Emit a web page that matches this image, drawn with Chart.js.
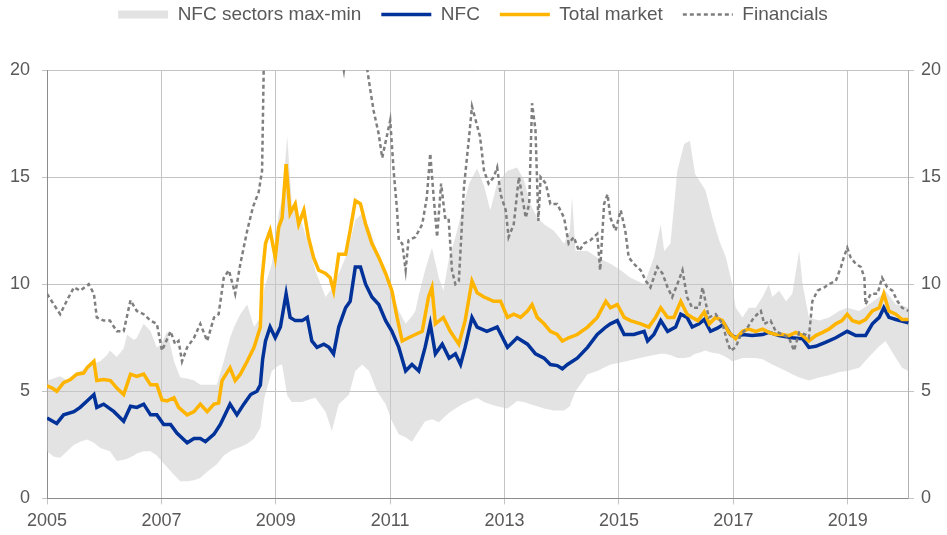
<!DOCTYPE html>
<html>
<head>
<meta charset="utf-8">
<script src="https://cdn.jsdelivr.net/npm/chart.js@4.4.1/dist/chart.umd.min.js"></script>
<style>
  html, body { margin: 0; padding: 0; background: #fff; }
  #wrap { width: 947px; height: 535px; }
</style>
</head>
<body>
<div id="wrap"><canvas id="chart"></canvas></div>
<script>
// x axis labels (odd years) and y ticks
const xTickYears = [2005, 2007, 2009, 2011, 2013, 2015, 2017, 2019];
const yTicks = [0, 5, 10, 15, 20];

// NFC sectors max-min band
const bandYears = [2005.0, 2005.12, 2005.23, 2005.35, 2005.47, 2005.58, 2005.7, 2005.82, 2005.93, 2006.05,
  2006.1, 2006.22, 2006.34, 2006.4, 2006.52, 2006.57, 2006.69, 2006.81, 2006.92, 2007.0,
  2007.1, 2007.22, 2007.33, 2007.45, 2007.57, 2007.68, 2007.8, 2007.97, 2008.09, 2008.2,
  2008.27, 2008.38, 2008.5, 2008.62, 2008.73, 2008.8, 2008.93, 2009.05, 2009.11, 2009.2,
  2009.28, 2009.46, 2009.57, 2009.69, 2009.87, 2009.98, 2010.1, 2010.22, 2010.28, 2010.39,
  2010.51, 2010.63, 2010.77, 2010.92, 2011.03, 2011.15, 2011.27, 2011.38, 2011.44, 2011.5,
  2011.61, 2011.73, 2011.85, 2011.93, 2012.03, 2012.14, 2012.26, 2012.38, 2012.52, 2012.64,
  2012.75, 2012.87, 2013.05, 2013.22, 2013.34, 2013.45, 2013.57, 2013.69, 2013.86, 2014.04,
  2014.14, 2014.18, 2014.24, 2014.45, 2014.62, 2014.85, 2015.03, 2015.2, 2015.44, 2015.61,
  2015.73, 2015.79, 2015.9, 2016.02, 2016.14, 2016.24, 2016.33, 2016.4, 2016.51, 2016.63,
  2016.75, 2016.87, 2016.98, 2017.04, 2017.16, 2017.27, 2017.39, 2017.51, 2017.62, 2017.68,
  2017.8, 2017.92, 2018.03, 2018.15, 2018.21, 2018.32, 2018.5, 2018.67, 2018.85, 2018.99,
  2019.2, 2019.37, 2019.55, 2019.66, 2019.84, 2019.95, 2020.06];
const bandMax = [5.5, 5.6, 5.7, 5.5, 5.8, 5.95, 6.1, 6.3, 6.4, 6.7,
  6.9, 6.6, 7.0, 7.65, 7.4, 7.5, 8.15, 7.8, 7.05, 7.2,
  7.8, 6.4, 5.65, 5.6, 5.5, 5.3, 5.3, 5.3, 6.4, 7.5,
  8.0, 8.6, 9.05, 8.0, 8.45, 9.8, 10.95, 13.3, 14.0, 16.9,
  13.75, 12.8, 11.9, 10.65, 9.4, 9.8, 10.5, 11.25, 11.8, 13.0,
  13.3, 12.65, 11.55, 10.65, 9.7, 8.75, 8.15, 8.5, 8.75, 9.5,
  10.65, 11.7, 10.3, 9.7, 11.25, 12.2, 13.45, 14.7, 15.4, 14.6,
  13.45, 14.7, 15.3, 15.45, 14.85, 13.75, 13.1, 12.8, 12.5, 11.9,
  12.5, 14.05, 11.55, 11.55, 11.25, 10.95, 10.65, 10.3, 10.0, 11.25,
  12.8, 11.55, 11.9, 15.3, 16.55, 16.7, 15.15, 14.85, 14.4, 13.15,
  12.05, 11.25, 10.0, 8.9, 8.45, 8.9, 8.9, 9.4, 10.0, 9.4,
  9.7, 9.2, 9.55, 11.55, 10.0, 8.45, 8.3, 8.45, 8.75, 8.9,
  8.75, 9.05, 9.4, 9.7, 9.05, 9.0, 8.9];
const bandMin = [2.2, 1.95, 1.9, 2.2, 2.5, 2.65, 2.75, 2.6, 2.35, 2.25,
  2.2, 1.75, 1.8, 1.85, 2.0, 2.1, 2.2, 2.2, 2.0, 1.75,
  1.45, 1.1, 0.8, 0.8, 0.85, 0.95, 1.25, 1.6, 2.0, 2.2,
  2.3, 2.4, 2.55, 2.8, 3.3, 4.7, 5.95, 6.2, 6.25, 4.8,
  4.5, 4.5, 4.6, 4.7, 4.05, 3.15, 4.4, 4.7, 4.85, 5.95,
  6.25, 5.95, 5.0, 4.4, 3.6, 3.0, 2.85, 2.65, 2.9, 3.15,
  3.6, 3.7, 3.55, 3.75, 4.0, 4.2, 4.4, 4.55, 4.7, 4.5,
  4.4, 4.3, 4.2, 4.55, 4.5, 4.4, 4.3, 4.2, 4.1, 4.1,
  4.3, 4.6, 5.0, 5.8, 5.95, 6.25, 6.35, 6.45, 6.6, 6.7,
  6.75, 6.75, 6.7, 6.55, 6.55, 6.6, 6.75, 6.8, 6.9, 6.8,
  6.75, 6.6, 6.4, 6.45, 6.55, 6.55, 6.55, 6.5, 6.35, 6.25,
  6.1, 5.95, 5.8, 5.65, 5.6, 5.5, 5.65, 5.75, 5.9, 5.95,
  6.1, 6.6, 7.1, 7.35, 6.55, 6.1, 5.95];

// NFC
const nfcYears = [2005.0, 2005.17, 2005.29, 2005.47, 2005.58, 2005.7, 2005.82, 2005.87, 2005.99, 2006.17,
  2006.34, 2006.46, 2006.57, 2006.69, 2006.81, 2006.92, 2007.04, 2007.16, 2007.27, 2007.45,
  2007.57, 2007.68, 2007.77, 2007.92, 2008.03, 2008.2, 2008.32, 2008.44, 2008.56, 2008.67,
  2008.73, 2008.77, 2008.82, 2008.9, 2008.99, 2009.08, 2009.18, 2009.25, 2009.34, 2009.46,
  2009.55, 2009.63, 2009.72, 2009.84, 2009.93, 2010.01, 2010.1, 2010.22, 2010.3, 2010.39,
  2010.48, 2010.57, 2010.68, 2010.8, 2010.92, 2011.03, 2011.15, 2011.27, 2011.38, 2011.5,
  2011.61, 2011.7, 2011.79, 2011.91, 2012.03, 2012.14, 2012.23, 2012.31, 2012.43, 2012.52,
  2012.69, 2012.87, 2013.05, 2013.22, 2013.4, 2013.54, 2013.69, 2013.8, 2013.92, 2014.01,
  2014.1, 2014.27, 2014.45, 2014.62, 2014.77, 2014.85, 2014.97, 2015.09, 2015.26, 2015.44,
  2015.5, 2015.61, 2015.73, 2015.85, 2015.99, 2016.08, 2016.19, 2016.28, 2016.4, 2016.49,
  2016.6, 2016.72, 2016.84, 2016.95, 2017.04, 2017.16, 2017.33, 2017.51, 2017.62, 2017.8,
  2018.03, 2018.21, 2018.32, 2018.44, 2018.62, 2018.79, 2018.99, 2019.14, 2019.31, 2019.43,
  2019.55, 2019.63, 2019.72, 2019.84, 2020.06];
const nfcValues = [3.75, 3.5, 3.9, 4.05, 4.25, 4.55, 4.85, 4.25, 4.4, 4.05,
  3.6, 4.3, 4.25, 4.4, 3.9, 3.9, 3.45, 3.45, 3.05, 2.6,
  2.8, 2.8, 2.65, 3.0, 3.45, 4.4, 3.9, 4.4, 4.85, 5.0,
  5.3, 6.5, 7.35, 8.0, 7.5, 8.0, 9.55, 8.45, 8.3, 8.3,
  8.45, 7.35, 7.05, 7.2, 7.05, 6.75, 8.0, 8.9, 9.2, 10.8,
  10.8, 10.0, 9.4, 9.05, 8.3, 7.8, 7.05, 5.95, 6.25, 5.95,
  7.05, 8.15, 6.75, 7.2, 6.55, 6.75, 6.25, 7.05, 8.45, 8.0,
  7.8, 8.0, 7.05, 7.5, 7.2, 6.75, 6.55, 6.25, 6.2, 6.05,
  6.25, 6.55, 7.05, 7.65, 8.0, 8.15, 8.3, 7.65, 7.65, 7.8,
  7.35, 7.65, 8.3, 7.8, 8.0, 8.6, 8.45, 8.0, 8.15, 8.35,
  7.8, 7.95, 8.15, 7.65, 7.5, 7.65, 7.6, 7.65, 7.75, 7.6,
  7.5, 7.45, 7.05, 7.1, 7.3, 7.5, 7.8, 7.6, 7.6, 8.15,
  8.45, 8.9, 8.45, 8.35, 8.2];

// Total market
const totalYears = [2005.0, 2005.09, 2005.17, 2005.29, 2005.41, 2005.52, 2005.64, 2005.7, 2005.82, 2005.87,
  2005.99, 2006.11, 2006.22, 2006.34, 2006.46, 2006.57, 2006.69, 2006.81, 2006.92, 2007.01,
  2007.1, 2007.22, 2007.3, 2007.45, 2007.57, 2007.68, 2007.8, 2007.92, 2008.0, 2008.06,
  2008.2, 2008.29, 2008.38, 2008.5, 2008.62, 2008.73, 2008.76, 2008.82, 2008.9, 2008.99,
  2009.05, 2009.11, 2009.18, 2009.25, 2009.34, 2009.4, 2009.49, 2009.57, 2009.66, 2009.75,
  2009.87, 2009.95, 2010.01, 2010.1, 2010.22, 2010.3, 2010.39, 2010.48, 2010.57, 2010.68,
  2010.8, 2010.92, 2011.03, 2011.12, 2011.21, 2011.32, 2011.44, 2011.56, 2011.67, 2011.73,
  2011.79, 2011.93, 2012.05, 2012.2, 2012.31, 2012.43, 2012.52, 2012.64, 2012.81, 2012.93,
  2013.05, 2013.16, 2013.28, 2013.4, 2013.48, 2013.57, 2013.69, 2013.8, 2013.92, 2014.01,
  2014.12, 2014.27, 2014.45, 2014.62, 2014.77, 2014.85, 2014.97, 2015.09, 2015.2, 2015.38,
  2015.52, 2015.64, 2015.73, 2015.85, 2015.96, 2016.08, 2016.19, 2016.28, 2016.38, 2016.49,
  2016.58, 2016.69, 2016.81, 2016.92, 2017.04, 2017.16, 2017.27, 2017.39, 2017.51, 2017.62,
  2017.74, 2017.86, 2017.97, 2018.09, 2018.21, 2018.32, 2018.44, 2018.56, 2018.67, 2018.79,
  2018.9, 2018.99, 2019.08, 2019.2, 2019.31, 2019.43, 2019.55, 2019.63, 2019.72, 2019.84,
  2019.95, 2020.06];
const totalValues = [5.25, 5.15, 5.0, 5.4, 5.55, 5.8, 5.85, 6.1, 6.4, 5.5,
  5.55, 5.5, 5.15, 4.85, 5.8, 5.7, 5.8, 5.3, 5.3, 4.6,
  4.55, 4.7, 4.25, 3.9, 4.05, 4.4, 4.05, 4.4, 4.45, 5.5,
  6.1, 5.5, 5.8, 6.4, 7.05, 8.0, 10.3, 11.9, 12.5, 11.25,
  12.65, 13.1, 15.6, 13.3, 13.75, 12.8, 13.45, 12.2, 11.25, 10.65,
  10.5, 10.3, 9.7, 11.4, 11.4, 12.5, 13.9, 13.75, 12.8, 11.9,
  11.25, 10.5, 9.7, 8.45, 7.35, 7.5, 7.65, 7.8, 9.4, 9.85,
  8.15, 8.45, 7.8, 7.2, 8.3, 10.15, 9.6, 9.4, 9.2, 9.2,
  8.45, 8.6, 8.45, 8.75, 9.05, 8.45, 8.15, 7.8, 7.65, 7.35,
  7.5, 7.65, 8.0, 8.45, 9.2, 8.9, 9.05, 8.45, 8.3, 8.15,
  8.0, 8.45, 8.9, 8.45, 8.45, 9.2, 8.6, 8.45, 8.3, 8.7,
  8.15, 8.45, 8.3, 7.75, 7.45, 7.8, 7.9, 7.8, 7.9, 7.75,
  7.65, 7.65, 7.6, 7.75, 7.6, 7.35, 7.6, 7.75, 7.9, 8.15,
  8.3, 8.6, 8.3, 8.2, 8.35, 8.75, 8.9, 9.55, 8.75, 8.6,
  8.35, 8.35];

// Financials (values above 20 run off the top of the chart)
const finYears = [2005.0, 2005.12, 2005.23, 2005.35, 2005.47, 2005.58, 2005.73, 2005.82, 2005.87, 2005.99,
  2006.1, 2006.22, 2006.34, 2006.46, 2006.57, 2006.69, 2006.81, 2006.92, 2007.01, 2007.16,
  2007.24, 2007.3, 2007.36, 2007.45, 2007.57, 2007.68, 2007.8, 2007.92, 2008.0, 2008.09,
  2008.18, 2008.29, 2008.38, 2008.5, 2008.6, 2008.7, 2008.76, 2008.8, 2009.0, 2009.5,
  2009.9, 2010.1, 2010.19, 2010.28, 2010.45, 2010.6, 2010.65, 2010.71, 2010.8, 2010.86,
  2010.94, 2011.0, 2011.06, 2011.12, 2011.15, 2011.21, 2011.27, 2011.32, 2011.44, 2011.56,
  2011.64, 2011.7, 2011.76, 2011.82, 2011.89, 2011.96, 2012.02, 2012.08, 2012.14, 2012.2,
  2012.29, 2012.38, 2012.43, 2012.52, 2012.57, 2012.64, 2012.72, 2012.81, 2012.87, 2012.93,
  2013.02, 2013.07, 2013.16, 2013.25, 2013.31, 2013.37, 2013.43, 2013.48, 2013.54, 2013.59,
  2013.63, 2013.72, 2013.8, 2013.92, 2014.04, 2014.12, 2014.21, 2014.3, 2014.39, 2014.5,
  2014.62, 2014.67, 2014.74, 2014.8, 2014.85, 2014.94, 2015.03, 2015.11, 2015.17, 2015.26,
  2015.38, 2015.47, 2015.55, 2015.67, 2015.76, 2015.85, 2015.93, 2016.02, 2016.11, 2016.19,
  2016.28, 2016.4, 2016.46, 2016.57, 2016.69, 2016.81, 2016.89, 2016.95, 2017.04, 2017.13,
  2017.24, 2017.36, 2017.48, 2017.54, 2017.65, 2017.74, 2017.86, 2017.97, 2018.06, 2018.15,
  2018.26, 2018.32, 2018.38, 2018.47, 2018.59, 2018.67, 2018.79, 2018.88, 2018.93, 2018.99,
  2019.05, 2019.14, 2019.23, 2019.29, 2019.31, 2019.4, 2019.52, 2019.6, 2019.69, 2019.78,
  2019.87, 2019.95, 2020.06];
const finValues = [9.55, 9.05, 8.6, 9.25, 9.85, 9.7, 10.0, 9.55, 8.45, 8.3,
  8.3, 7.8, 7.8, 9.25, 8.75, 8.6, 8.3, 8.15, 6.9, 7.8,
  7.2, 7.35, 6.4, 7.05, 7.5, 8.15, 7.35, 8.45, 8.6, 10.3,
  10.65, 9.55, 10.95, 12.5, 13.6, 14.3, 15.3, 22, 26, 27,
  24, 21.5, 20.0, 22, 23, 20.0, 19.1, 18.1, 17.0, 15.9,
  16.9, 17.65, 15.3, 13.45, 12.05, 11.9, 10.65, 12.05, 12.2, 12.8,
  14.05, 16.1, 14.05, 12.2, 14.7, 13.1, 13.1, 10.65, 10.0, 10.15,
  14.55, 16.9, 18.3, 17.4, 16.9, 15.3, 14.7, 15.0, 15.45, 14.2,
  13.45, 12.2, 12.8, 15.0, 14.05, 13.1, 13.75, 18.45, 17.2, 12.95,
  15.0, 14.7, 13.75, 13.75, 13.1, 11.9, 12.2, 11.55, 11.9, 12.05,
  12.35, 10.65, 13.75, 14.2, 13.1, 12.5, 13.45, 12.5, 11.25, 10.95,
  10.65, 10.15, 9.85, 10.8, 10.5, 9.85, 9.4, 10.0, 10.65, 9.4,
  8.9, 8.9, 9.85, 8.45, 8.6, 8.15, 7.35, 6.9, 7.05, 7.65,
  7.95, 8.45, 8.75, 8.15, 8.3, 7.8, 7.65, 7.5, 6.9, 7.75,
  7.65, 7.5, 9.2, 9.7, 9.85, 10.0, 10.15, 10.8, 11.25, 11.7,
  11.25, 10.95, 10.8, 10.3, 9.05, 9.55, 9.55, 10.3, 9.85, 9.7,
  9.2, 8.9, 8.75];

const toPoints = (xs, ys) => xs.map((x, i) => ({ x, y: ys[i] }));

// push the plot area down below the legend
const legendGap = {
  id: 'legendGap',
  beforeInit(chart) {
    const fit = chart.legend.fit;
    chart.legend.fit = function () {
      fit.bind(chart.legend)();
      this.height += 36;
    };
  }
};

Chart.defaults.font.family = '"Liberation Sans", Arial, sans-serif';
Chart.defaults.color = '#595959';

const legendItems = [
  { text: 'NFC sectors max-min', fillStyle: '#e3e3e3', strokeStyle: '#e3e3e3', lineWidth: 0, pointStyle: 'rect', datasetIndex: 0 },
  { text: 'NFC', fillStyle: '#003299', strokeStyle: '#003299', lineWidth: 3.5, pointStyle: 'line', datasetIndex: 2 },
  { text: 'Total market', fillStyle: '#ffb400', strokeStyle: '#ffb400', lineWidth: 3.5, pointStyle: 'line', datasetIndex: 3 },
  { text: 'Financials', fillStyle: '#7f7f7f', strokeStyle: '#7f7f7f', lineWidth: 2.5, lineDash: [4, 3], pointStyle: 'line', datasetIndex: 4 }
];

new Chart(document.getElementById('chart'), {
  type: 'line',
  data: {
    datasets: [
      {
        label: 'NFC sectors max-min',
        data: toPoints(bandYears, bandMax),
        borderWidth: 0,
        backgroundColor: 'rgba(200,200,200,0.5)',
        fill: '+1',
        order: 5
      },
      {
        label: 'min',
        data: toPoints(bandYears, bandMin),
        borderWidth: 0,
        fill: false,
        order: 5
      },
      {
        label: 'NFC',
        data: toPoints(nfcYears, nfcValues),
        borderColor: '#003299',
        borderWidth: 3.5,
        order: 3
      },
      {
        label: 'Total market',
        data: toPoints(totalYears, totalValues),
        borderColor: '#ffb400',
        borderWidth: 3.5,
        order: 2
      },
      {
        label: 'Financials',
        data: toPoints(finYears, finValues),
        borderColor: '#7f7f7f',
        borderWidth: 2.5,
        borderDash: [4, 3],
        order: 1
      }
    ]
  },
  options: {
    responsive: true,
    maintainAspectRatio: false,
    animation: false,
    layout: { padding: { top: -15, left: -2, right: -1, bottom: -3 } },
    elements: {
      point: { radius: 0, hoverRadius: 0 },
      line: { tension: 0 }
    },
    plugins: {
      tooltip: { enabled: false },
      legend: {
        position: 'top',
        labels: {
          usePointStyle: true,
          pointStyleWidth: 50,
          boxHeight: 8,
          padding: 20,
          color: '#595959',
          font: { size: 19 },
          generateLabels: () => legendItems.map(item => ({ ...item, hidden: false, fontColor: '#595959' }))
        },
        onClick: null
      }
    },
    scales: {
      x: {
        type: 'linear',
        min: 2005,
        max: 2020.07,
        afterBuildTicks: scale => { scale.ticks = xTickYears.map(v => ({ value: v })); },
        ticks: {
          autoSkip: false,
          maxRotation: 0,
          padding: 6,
          font: { size: 18 },
          color: '#595959',
          callback: v => String(v)
        },
        grid: { color: '#c4c4c4', tickLength: 6 },
        border: { color: '#8c8c8c' }
      },
      y: {
        position: 'left',
        min: 0,
        max: 20,
        afterBuildTicks: scale => { scale.ticks = yTicks.map(v => ({ value: v })); },
        ticks: { padding: 12, font: { size: 18 }, color: '#595959' },
        grid: { color: '#c4c4c4', tickLength: 5 },
        border: { color: '#8c8c8c' }
      },
      y2: {
        position: 'right',
        min: 0,
        max: 20,
        afterBuildTicks: scale => { scale.ticks = yTicks.map(v => ({ value: v })); },
        ticks: { padding: 7, font: { size: 18 }, color: '#595959' },
        grid: { drawOnChartArea: false, color: '#c4c4c4', tickLength: 5 },
        border: { color: '#b0b0b0' }
      }
    }
  },
  plugins: [legendGap]
});
</script>
</body>
</html>
